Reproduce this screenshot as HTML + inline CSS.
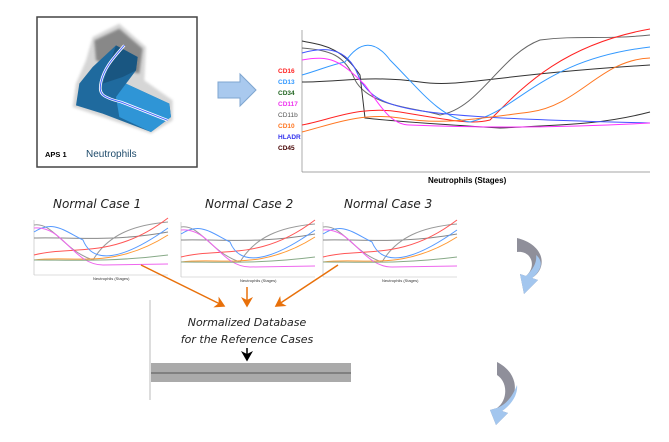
<!DOCTYPE html>
<html><head><meta charset="utf-8"><style>
html,body{margin:0;padding:0;background:#fff;}
svg{display:block;}
text{font-family:"Liberation Sans",sans-serif;}
.hw{font-family:"Comic Sans MS","DejaVu Sans",sans-serif;font-style:italic;}
</style></head><body>
<svg width="669" height="442" viewBox="0 0 669 442" xmlns="http://www.w3.org/2000/svg">
<defs>
<marker id="oa" markerWidth="8" markerHeight="8" refX="6" refY="4" orient="auto"><path d="M0,0 L7,4 L0,8 L2,4z" fill="#e8700a"/></marker>
<marker id="ba" markerWidth="8" markerHeight="8" refX="6" refY="4" orient="auto"><path d="M0,0 L7,4 L0,8 L2,4z" fill="#000"/></marker>
<filter id="bl"><feGaussianBlur stdDeviation="4"/></filter>
<filter id="bl2"><feGaussianBlur stdDeviation="2"/></filter>
<g id="mini">
<rect x="0" y="0" width="135" height="60" fill="#fff"/>
<line x1="1" y1="0" x2="1" y2="55" stroke="#bbb" stroke-width="0.6"/>
<line x1="1" y1="55" x2="135" y2="55" stroke="#bbb" stroke-width="0.6"/>
<path d="M1,18 C40,17 80,22 135,12" stroke="#888" fill="none"/>
<path d="M1,5 C20,2 30,30 60,40 C75,15 100,5 135,2" stroke="#999" fill="none"/>
<path d="M1,35 C40,25 80,40 135,-2" stroke="#f55" fill="none"/>
<path d="M1,12 C20,0 30,10 50,20 C60,45 90,40 135,8" stroke="#59f" fill="none"/>
<path d="M1,40 C40,35 80,50 135,15" stroke="#f93" fill="none"/>
<path d="M1,8 C30,5 40,45 70,45 L135,44" stroke="#e6e" fill="none"/>
<path d="M1,40 C40,40 80,42 135,35" stroke="#8a8" fill="none"/>
<text x="60" y="60" font-size="4" fill="#333">Neutrophils (Stages)</text>
</g>
</defs>
<!-- top left box -->
<rect x="37" y="17" width="160" height="150" fill="#fff" stroke="#444" stroke-width="1.5"/>
<g transform="translate(36,17) scale(0.3333)">
<path d="M170,60 L250,20 L330,90 L325,190 L410,250 L410,310 L345,350 L200,300 L110,270 L120,200 L150,130 Z" fill="#bbb" opacity="0.6" filter="url(#bl)"/>
<path d="M175,70 L250,35 L320,95 L310,170 L230,150 L180,130 Z" fill="#555" opacity="0.6" filter="url(#bl)"/>
<path d="M240,85 L305,120 L300,160 L270,200 L400,260 L405,300 L345,345 L200,290 L120,265 L130,200 L170,150 Z" fill="#1f6a9e"/>
<path d="M270,200 L400,260 L405,300 L345,345 L250,300 L240,240 Z" fill="#2f95d6"/>
<path d="M240,85 L305,120 L300,160 L260,180 L200,200 Z" fill="#174e75" opacity="0.7"/>
<path d="M265,85 C235,120 205,150 195,195 C188,230 195,240 255,255 L395,310" fill="none" stroke="#fff" stroke-width="8"/>
<path d="M265,85 C235,120 205,150 195,195 C188,230 195,240 255,255 L395,310" fill="none" stroke="#4466ff" stroke-width="3"/>
</g>
<text x="45" y="157" font-size="7.5" font-weight="bold" fill="#000">APS 1</text>
<text x="86" y="157" font-size="10" fill="#1d4a6a">Neutrophils</text>
<!-- block arrow -->
<path d="M218,82 L240,82 L240,74 L256,90 L240,106 L240,98 L218,98 Z" fill="#a9c9ee" stroke="#7fa6d0"/>
<!-- big chart -->
<line x1="302" y1="30" x2="302" y2="172" stroke="#888" stroke-width="0.7"/>
<line x1="302" y1="172" x2="650" y2="172" stroke="#888" stroke-width="0.7"/>
<path d="M302,82 C340,82 370,75 420,82 C460,88 490,75 650,65" stroke="#333" fill="none"/>
<path d="M302,48 C330,50 345,55 355,80 C370,108 420,108 440,115 C480,108 500,55 540,40 C580,35 600,40 650,35" stroke="#666" fill="none"/>
<path d="M302,41 C320,45 340,45 360,75 L365,118 C400,122 450,125 500,128 C560,125 600,125 650,112" stroke="#333" fill="none"/>
<path d="M302,125 C330,120 360,105 400,112 C450,120 470,125 490,120 C520,90 560,45 650,29" stroke="#f22" fill="none"/>
<path d="M302,75 C320,70 330,65 345,62 C360,40 375,40 390,60 C420,90 440,118 470,122 C520,110 540,60 650,47" stroke="#39f" fill="none"/>
<path d="M302,53 C330,45 350,50 360,80 C380,110 400,117 650,123" stroke="#45f" fill="none"/>
<path d="M302,60 C330,55 340,60 365,85 C380,105 390,125 410,125 C480,128 560,128 650,123" stroke="#f3f" fill="none"/>
<path d="M302,132 C330,125 360,112 400,118 C440,125 470,120 530,112 C580,105 600,60 650,58" stroke="#f72" fill="none"/>
<text x="278" y="73" font-size="6.5" font-weight="bold" fill="#f22">CD16</text>
<text x="278" y="84" font-size="6.5" font-weight="bold" fill="#39f">CD13</text>
<text x="278" y="95" font-size="6.5" font-weight="bold" fill="#262">CD34</text>
<text x="278" y="106" font-size="6.5" font-weight="bold" fill="#e3e">CD117</text>
<text x="278" y="117" font-size="6.5" fill="#555">CD11b</text>
<text x="278" y="128" font-size="6.5" font-weight="bold" fill="#f72">CD10</text>
<text x="278" y="139" font-size="6.5" font-weight="bold" fill="#33e">HLADR</text>
<text x="278" y="150" font-size="6.5" font-weight="bold" fill="#400">CD45</text>
<text x="428" y="183" font-size="8" font-weight="bold" fill="#000">Neutrophils (Stages)</text>
<!-- normal cases -->
<text x="53" y="208" font-size="12" class="hw" fill="#222">Normal Case 1</text>
<text x="205" y="208" font-size="12" class="hw" fill="#222">Normal Case 2</text>
<text x="344" y="208" font-size="12" class="hw" fill="#222">Normal Case 3</text>
<use href="#mini" x="33" y="220"/>
<use href="#mini" x="180" y="222"/>
<use href="#mini" x="322" y="222"/>
<!-- orange arrows -->
<line x1="141" y1="265" x2="224" y2="306" stroke="#e8700a" stroke-width="1.5" marker-end="url(#oa)"/>
<line x1="247" y1="287" x2="247" y2="306" stroke="#e8700a" stroke-width="1.5" marker-end="url(#oa)"/>
<line x1="338" y1="265" x2="276" y2="306" stroke="#e8700a" stroke-width="1.5" marker-end="url(#oa)"/>
<!-- database -->
<line x1="150" y1="300" x2="150" y2="400" stroke="#aaa" stroke-width="0.8"/>
<text x="247" y="326" font-size="11" class="hw" fill="#222" text-anchor="middle">Normalized Database</text>
<text x="247" y="343" font-size="11" class="hw" fill="#222" text-anchor="middle">for the Reference Cases</text>
<line x1="247" y1="348" x2="247" y2="360" stroke="#000" stroke-width="1.5" marker-end="url(#ba)"/>
<rect x="151" y="363" width="200" height="19" fill="#aaa"/>
<line x1="151" y1="373" x2="351" y2="373" stroke="#555" stroke-width="1"/>
<!-- curved arrows -->
<path d="M517,238 C545,245 548,268 532,278 L538,280 L524,294 L520,274 L526,276 C538,265 530,250 517,252 Z" fill="#8f8f9a"/>
<path d="M532,278 L538,280 L524,294 L520,274 L526,276 C535,268 537,260 536,255 C545,262 540,272 532,278Z" fill="#a3c6ee"/>
<path d="M497,408 L490,410 L496,425 L508,413 L502,411 C518,400 522,375 497,362 L497,375 C508,382 508,400 497,408Z" fill="#8f8f9a"/>
<path d="M497,408 L490,410 L496,425 L508,413 L502,411 C514,403 518,392 517,385 C512,398 505,405 497,408Z" fill="#a3c6ee"/>
</svg>
</body></html>
